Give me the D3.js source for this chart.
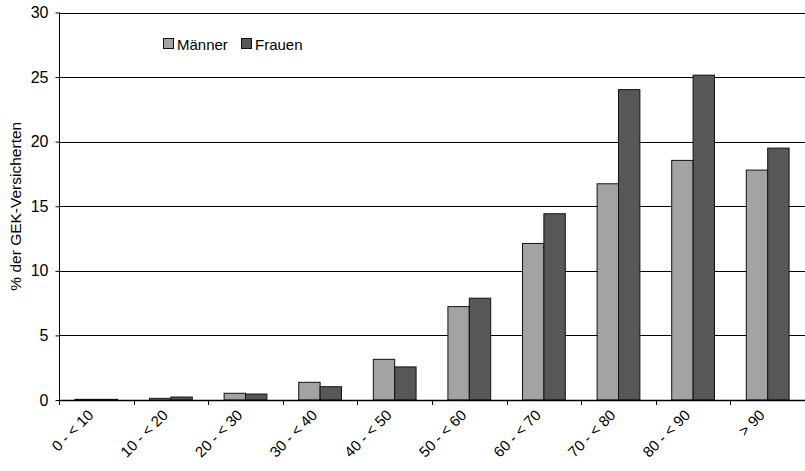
<!DOCTYPE html>
<html>
<head>
<meta charset="utf-8">
<script src="https://cdn.jsdelivr.net/npm/d3@7"></script>
<style>
  body { margin: 0; background: #fff; }
  text { font-family: "Liberation Sans", Arial, sans-serif; fill: #000; }
</style>
</head>
<body>
<svg id="chart" width="805" height="471"></svg>
<script>
// Age groups and shares of insured persons (%) per sex
const categories = ["0 - < 10", "10 - < 20", "20 - < 30", "30 - < 40", "40 - < 50",
                    "50 - < 60", "60 - < 70", "70 - < 80", "80 - < 90", "> 90"];
const maenner = [0.05, 0.13, 0.52, 1.37, 3.15, 7.23, 12.12, 16.74, 18.55, 17.8];
const frauen  = [0.05, 0.23, 0.46, 1.03, 2.56, 7.88, 14.42, 24.03, 25.15, 19.5];
const seriesNames = ["Männer", "Frauen"];
const seriesColors = ["#a3a3a3", "#575757"];
const yTicks = [0, 5, 10, 15, 20, 25, 30];

const svg = d3.select("#chart");
const plotLeft = 59, plotRight = 805, plotTop = 12.5, plotBottom = 400;

const x = d3.scaleBand().domain(categories).range([plotLeft, plotRight])
  .paddingInner(32 / 75).paddingOuter(16 / 75);
const xInner = d3.scaleBand().domain(seriesNames).range([0, x.bandwidth()]);
const y = d3.scaleLinear().domain([0, 30]).range([plotBottom, plotTop]);

// horizontal gridlines
svg.append("g").selectAll("line").data(yTicks.filter(d => d > 0)).join("line")
  .attr("x1", plotLeft).attr("x2", plotRight)
  .attr("y1", d => Math.round(y(d)) + 0.5).attr("y2", d => Math.round(y(d)) + 0.5)
  .attr("stroke", "#000").attr("stroke-width", 1);

// bars
const rows = categories.map((c, i) => ({ c, vals: [maenner[i], frauen[i]] }));
const groups = svg.append("g").selectAll("g").data(rows).join("g")
  .attr("transform", d => `translate(${x(d.c)},0)`);
groups.selectAll("rect").data(d => d.vals.map((v, j) => ({ v, s: seriesNames[j], j })))
  .join("rect")
  .attr("x", d => xInner(d.s))
  .attr("y", d => y(d.v))
  .attr("width", xInner.bandwidth())
  .attr("height", d => plotBottom - y(d.v))
  .attr("fill", d => seriesColors[d.j])
  .attr("stroke", "#111").attr("stroke-width", 1);

// y axis
const yAxis = svg.append("g").attr("transform", `translate(${plotLeft + 0.5},0)`)
  .call(d3.axisLeft(y).tickValues(yTicks).tickSize(4).tickPadding(7));
yAxis.select(".domain").attr("stroke", "#000").attr("d", `M0,${plotTop}V${plotBottom}`);
yAxis.selectAll(".tick line").attr("stroke", "#000");
yAxis.selectAll("text").attr("font-size", 16).style("font-family", "Liberation Sans, Arial, sans-serif");

// x axis line with ticks at category boundaries
const xAxisG = svg.append("g");
xAxisG.append("line").attr("x1", plotLeft).attr("x2", plotRight)
  .attr("y1", plotBottom + 0.5).attr("y2", plotBottom + 0.5).attr("stroke", "#000").attr("stroke-width", 1.5);
const step = x.step();
const boundaries = d3.range(categories.length + 1).map(i => plotLeft + i * step);
xAxisG.selectAll("line.tk").data(boundaries).join("line").attr("class", "tk")
  .attr("x1", d => Math.round(d) + 0.5).attr("x2", d => Math.round(d) + 0.5)
  .attr("y1", plotBottom).attr("y2", plotBottom + 5).attr("stroke", "#000");

// rotated category labels
xAxisG.selectAll("text").data(categories).join("text")
  .attr("transform", d => `translate(${x(d) + x.bandwidth() / 2 - 2},${plotBottom + 16}) rotate(-45)`)
  .attr("text-anchor", "end")
  .attr("font-size", 15)
  .text(d => d);

// y axis title
svg.append("text")
  .attr("transform", `translate(21,${(plotTop + plotBottom) / 2}) rotate(-90)`)
  .attr("text-anchor", "middle")
  .attr("font-size", 15.5)
  .text("% der GEK-Versicherten");

// legend
const legend = svg.append("g").attr("transform", "translate(163,38)");
const legItems = [{ n: seriesNames[0], c: seriesColors[0], dx: 0 }, { n: seriesNames[1], c: seriesColors[1], dx: 78 }];
legItems.forEach(it => {
  legend.append("rect").attr("x", it.dx + 0.5).attr("y", 0.5).attr("width", 10).attr("height", 10)
    .attr("fill", it.c).attr("stroke", "#111");
  legend.append("text").attr("x", it.dx + 14).attr("y", 11.5).attr("font-size", 15).text(it.n);
});
</script>
</body>
</html>
